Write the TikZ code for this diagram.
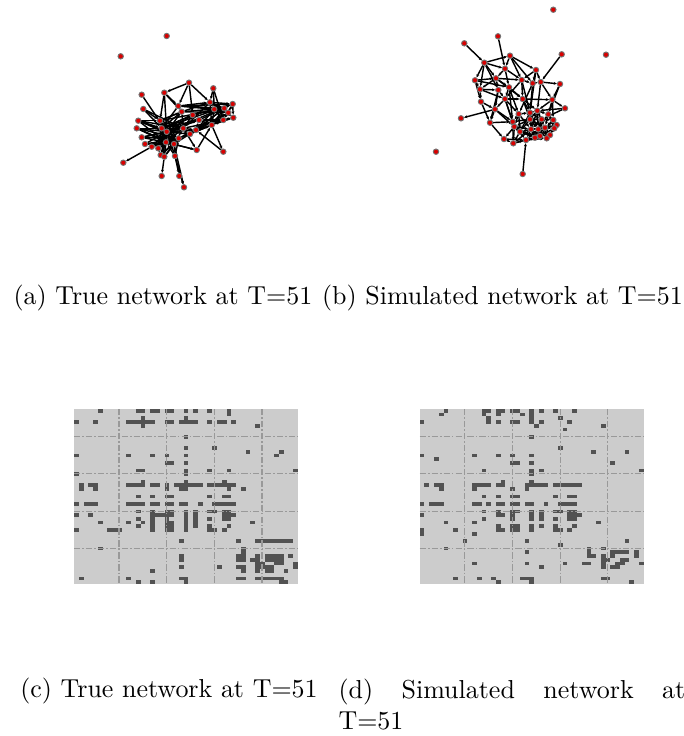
\documentclass[tikz,border=0pt]{standalone}
\usepackage{tikz}
\usetikzlibrary{arrows.meta}
\pgfdeclarelayer{edges}
\pgfsetlayers{edges,main}

\begin{document}
\begin{tikzpicture}[x=0.385pt, y=-0.385pt,
    vertex/.style={circle, fill=red!85!black, draw=black!55, line width=0.35pt, inner sep=0pt, minimum size=2.1pt},
    link/.style={-{Stealth[length=1.2pt,width=1.1pt]}, line width=0.55pt},
    cell/.style={fill=black!68},
    gridline/.style={black!40, line width=0.4pt, dash pattern=on 2.4pt off 0.8pt on 0.6pt off 0.8pt},
    caption/.style={anchor=base, inner sep=0pt}]
\useasboundingbox (0,0) rectangle (684,736);

% true network
\foreach \n/\x/\y in {1/166.7/36, 2/120.7/56.3, 3/189/82.7, 4/213.3/88.3, 5/141.7/94.7, 6/164.3/92.7,
    7/178.3/106, 8/210/102.3, 9/232.7/104, 10/143.3/109, 11/214.3/109.3, 12/224.3/108.3,
    13/228.3/112.7, 14/233.3/117.7, 15/223.3/120, 16/181.7/111.7, 17/192.7/115, 18/199/120,
    19/211.7/125, 20/138.3/120.7, 21/160/120.7, 22/136.7/128.3, 23/161.7/128.3, 24/166.7/131.7,
    25/183.3/128.3, 26/196/130, 27/190/134, 28/141.7/137.3, 29/145/144, 30/151.7/146.7,
    31/166/142.3, 32/174/144, 33/178.7/138.3, 34/158.3/148.3, 35/196.7/150, 36/223.3/151.7,
    37/160.7/155, 38/164.3/156.7, 39/175/156, 40/123.3/162.7, 41/161.7/176, 42/179.3/176, 43/184/187.3}
  \node[vertex] (a\n) at (\x,\y) {};

\begin{pgfonlayer}{edges}
\foreach \s/\t in {3/6, 3/7, 3/8, 3/17, 6/7, 6/21, 6/24, 5/24, 10/23, 10/25, 4/8, 4/11, 4/15, 7/9, 7/8,
    7/16, 7/12, 7/23, 8/9, 8/11, 8/12, 8/13, 8/14, 8/19, 8/25, 9/13, 9/14, 9/11, 11/12, 11/15, 11/17,
    12/13, 12/14, 13/14, 13/15, 14/19, 15/19, 15/18, 16/21, 16/23, 16/24, 16/12, 17/23, 17/11, 17/24,
    18/24, 18/12, 18/23, 19/26, 19/27, 19/36, 20/24, 20/23, 20/25, 21/23, 21/24, 21/31, 22/24, 22/25,
    22/33, 23/24, 23/31, 23/34, 24/25, 24/26, 24/31, 24/32, 25/31, 25/35, 26/32, 26/18, 26/11, 27/31,
    27/15, 28/24, 28/33, 29/24, 29/32, 30/31, 30/40, 31/32, 31/34, 31/38, 32/33, 32/39, 33/24, 34/37,
    35/31, 35/19, 36/26, 37/24, 38/23, 38/41, 39/24, 39/42, 39/43, 32/43, 21/12, 23/9, 25/14, 27/13,
    16/8, 33/19, 38/32, 37/32, 29/31, 22/23, 20/21, 28/31,
    20/31, 20/33, 22/31, 22/32, 28/25, 29/33, 30/24, 30/33, 34/24, 34/33, 37/31, 37/33, 38/24, 38/33,
    39/31, 39/33, 21/25, 21/33, 23/25, 23/33, 24/27, 25/26, 25/27, 31/33, 32/25, 31/35, 24/18, 23/17,
    21/16, 10/21, 16/25, 17/25, 11/19, 12/19, 9/15, 14/15, 13/19, 18/19, 26/12, 27/12, 33/13, 24/9,
    16/13, 7/11, 6/16}
  \draw[link] (a\s) -- (a\t);
\end{pgfonlayer}

% simulated network
\foreach \n/\x/\y in {1/553.3/9.7, 2/606/54.7, 3/464.3/43.3, 4/498/36.3, 5/561.7/54.3, 6/484.3/62.7,
    7/510/55.7, 8/505/68.7, 9/536/70, 10/475/80.3, 11/496/78.3, 12/521.7/80, 13/532.7/83.3,
    14/540.7/82, 15/560/84, 16/480/89.3, 17/498.3/90, 18/509/87.3, 19/481/101.7, 20/505/99,
    21/522.7/99, 22/552.3/99.7, 23/565/108.3, 24/495/109.3, 25/461/118.3, 26/490/122.7,
    27/518.7/114, 28/530/112.7, 29/537.3/110.7, 30/548.3/114.3, 31/512.7/121.7, 32/530/119.3,
    33/541.7/119.3, 34/553.3/120, 35/556.7/125, 36/514.3/126.7, 37/531/129.3, 38/538.3/129.3,
    39/545/127.7, 40/554.3/128.3, 41/520/131.7, 42/550/135, 43/504/139, 44/513.3/143.3,
    45/526/140, 46/535/137.7, 47/540/136, 48/546.7/138.3, 49/436/151.7, 50/522.7/174}
  \node[vertex] (b\n) at (\x,\y) {};

\begin{pgfonlayer}{edges}
\foreach \s/\t in {3/6, 4/8, 5/14, 6/7, 6/8, 6/10, 6/11, 6/17, 7/8, 7/9, 7/12, 7/13, 8/11, 8/12, 8/18,
    9/12, 9/14, 9/13, 10/11, 10/16, 10/19, 10/18, 11/12, 11/17, 11/18, 11/16, 12/13, 12/21, 12/28,
    13/14, 13/27, 14/15, 14/22, 14/29, 15/22, 15/30, 16/17, 16/19, 16/20, 17/20, 17/24, 18/20, 18/21,
    18/27, 19/24, 19/26, 20/21, 20/24, 20/27, 20/36, 21/22, 21/28, 21/32, 22/23, 22/29, 22/34, 24/25,
    24/26, 24/31, 26/43, 26/31, 27/28, 27/31, 27/36, 28/29, 28/32, 29/30, 29/33, 30/34, 30/35, 31/36,
    31/32, 32/33, 32/37, 33/34, 33/38, 34/35, 34/40, 35/40, 36/37, 36/41, 36/43, 37/38, 37/45, 38/39,
    38/46, 39/40, 39/48, 40/42, 41/44, 41/45, 42/48, 43/44, 44/45, 45/46, 46/47, 47/48, 50/45, 12/20,
    9/28, 18/31, 11/21, 6/16, 23/29, 23/33, 20/31, 17/26, 28/37, 29/38, 30/39, 32/41, 33/47, 35/42,
    31/44, 37/46, 36/45, 29/32, 13/28, 38/47, 27/41, 24/36, 22/30, 21/29, 32/38, 30/40, 28/33,
    37/41, 37/44, 38/45, 39/46, 40/47, 42/47, 41/46, 44/46, 45/48, 43/45, 36/44, 32/36, 33/37, 34/39,
    35/39, 35/48, 40/48, 28/38, 29/39, 30/38, 32/46, 33/46, 34/47, 37/47, 38/48, 39/42, 31/41, 27/37,
    28/41, 36/46, 29/37, 41/47, 45/47, 46/48, 37/39, 32/39}
  \draw[link] (b\s) -- (b\t);
\end{pgfonlayer}

\node[caption] (capA) at (163,304) {(a) True network at T=51};
\node[caption] (capB) at (502.5,304) {(b) Simulated network at T=51};

% true adjacency
\begin{scope}[shift={(74,409)}]
  \fill[black!20] (0,0) rectangle (224,175);
  \foreach \r/\cs in {0/{5,13,14,16,17,19,20,23,25,28,32}, 1/{32}, 2/{14,23},
      3/{0,4,11,12,13,14,15,16,19,20,22,23,24,25,28,30,31,33}, 4/{14,38}, 7/{23}, 10/{23,29},
      11/{36,43}, 12/{0,11,16,19,23,42}, 14/{19,20,23}, 16/{13,14,23,28,32,46}, 17/{0,23},
      19/{14,23,31}, 20/{1,3,4,11,12,13,14,16,17,19,21,22,23,24,25,26,28,29,30,31,32,33},
      21/{1,4,19,22,23,32,35}, 23/{13,16,19,20,28,31,32},
      25/{0,2,3,4,11,12,13,14,16,17,19,20,22,23,26,29,30,31,32,33},
      27/{13,16,19,20,23,25,28,29,31,32}, 28/{0,3,16,17,18,19,20,23,25,31,32,33},
      29/{13,16,19,23,25,28,31,32}, 30/{5,11,14,16,19,20,23,25,37}, 31/{13,16,19,20,23,25,28,32},
      32/{0,7,8,9,16,19,20,23,28,29,31}, 35/{22,34,38,39,40,41,42,43,44,45}, 37/{5,35}, 38/{35},
      39/{22,34,35,38,40,41,42,43,45}, 40/{22,34,35,37,38,40,41,42,43}, 41/{38,39,42,43,46},
      42/{22,30,34,35,38,39,40,41,46}, 43/{16,35,38,40,41,44},
      45/{1,11,22,23,34,35,38,39,40,41,42,43}, 46/{13,16,23,43,44}}
    \foreach \c in \cs
      \fill[cell] (\c*4.766,\r*3.723) rectangle +(4.766,3.723);
  \foreach \k in {0,...,3} {
    \draw[gridline] (45+\k*47.66,0) -- +(0,175);
    \draw[gridline] (0,27.7+\k*37.23) -- +(224,0);
  }
\end{scope}

% simulated adjacency
\begin{scope}[shift={(419.7,409)}]
  \fill[black!20] (0,0) rectangle (224,175);
  \foreach \r/\cs in {0/{5,13,14,16,17,19,20,23,25,28,32}, 1/{4,13,16,21,23}, 2/{14,23,29},
      3/{0,14,16,19,20,23,25,31}, 4/{24,38}, 5/{30}, 7/{23}, 10/{29}, 11/{36,43},
      12/{0,11,16,19,23}, 13/{3}, 14/{19,20,23,40}, 16/{13,23,25,46}, 17/{23}, 19/{17,23},
      20/{1,3,4,11,12,13,14,16,17,22,23,24,25,26,28,29,30,31,32,33}, 21/{4,11,19,22},
      23/{13,16,19,20,28,31,32}, 25/{0,2,3,4,11,12,14,16,17,19,20,22,23,26,29,30,31,32},
      27/{13,16,19,20,23,25,28,29,31,32}, 28/{0,16,17,19,23,25,31,32,33},
      29/{13,19,23,25,28,31,32}, 30/{5,11,37}, 31/{16,19,20,23,25,28,32},
      32/{0,7,16,17,19,20,23,28,29,31}, 33/{0,11}, 35/{9,22,43}, 36/{29}, 37/{5,35,38},
      38/{22,35,40,41,42,43,45}, 39/{35,36,38,40,45}, 40/{38,39,42,43},
      41/{11,22,30,34,35,38,41,42,46}, 42/{25,38,40,41}, 45/{7,12,15,21,22,23,38,39},
      46/{16,23,44}}
    \foreach \c in \cs
      \fill[cell] (\c*4.766,\r*3.723) rectangle +(4.766,3.723);
  \foreach \k in {0,...,3} {
    \draw[gridline] (45+\k*47.66,0) -- +(0,175);
    \draw[gridline] (0,27.7+\k*37.23) -- +(224,0);
  }
\end{scope}

\node[caption] (capC) at (169,697) {(c) True network at T=51};
\node[anchor=north west, inner sep=0pt, text width=133.5pt, align=justify] (capD) at (338,678)
  {(d) Simulated network at T=51};
\end{tikzpicture}
\end{document}
